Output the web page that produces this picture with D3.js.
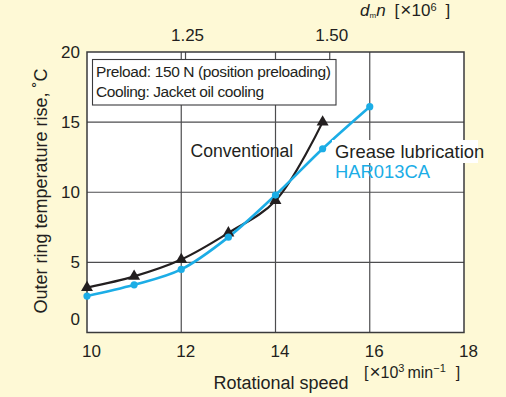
<!DOCTYPE html>
<html>
<head>
<meta charset="utf-8">
<script src="https://cdn.jsdelivr.net/npm/d3@7"></script>
<style>
  body { margin: 0; background: #fef9d6; }
  text { font-family: "Liberation Sans", Arial, sans-serif; fill: #231f20; }
</style>
</head>
<body>
<svg id="chart" width="506" height="397"></svg>
<script>
// axis ticks
const speedTicks = [ 10, 12, 14, 16, 18 ];
const tempTicks = [ 0, 5, 10, 15, 20 ];
const dmnTicks = [ 12.08, 15.14 ];   // speed where dmn = 1.25 / 1.50
const dmnLabels = [ "1.25", "1.50" ];

// series
const convSpeed = [ 10, 11, 12, 13, 14, 15 ];
const convTemp = [ 3.2, 4.0, 5.2, 7.1, 9.4, 15.0 ];
const greaseSpeed = [ 10, 11, 12, 13, 14, 15, 16 ];
const greaseTemp = [ 2.6, 3.4, 4.5, 6.8, 9.8, 13.1, 16.1 ];

const BLACK = "#231f20";
const BLUE = "#1cade6";
const GRID = "#4d4d4f";

const svg = d3.select( "#chart" );
const MARGINS = {
  top   : 52,
  right : 42,
  bottom: 64.5,
  left  : 87,
};
const WIDTH = 506;
const HEIGHT = 397;

const x = d3.scaleLinear()
  .domain( [ 10, 18 ] )
  .range( [ MARGINS.left, WIDTH - MARGINS.right ] );
const y = d3.scaleLinear()
  .domain( [ 0, 20 ] )
  .range( [ HEIGHT - MARGINS.bottom, MARGINS.top ] );

// plot background
svg.append( "rect" )
  .attr( "x", x( 10 ) )
  .attr( "y", y( 20 ) )
  .attr( "width", x( 18 ) - x( 10 ) )
  .attr( "height", y( 0 ) - y( 20 ) )
  .attr( "fill", "#fff" );

// grid
svg.append( "g" )
  .selectAll( "line" )
  .data( speedTicks.slice( 1, -1 ) )
  .enter()
  .append( "line" )
  .attr( "x1", d => x( d ) )
  .attr( "x2", d => x( d ) )
  .attr( "y1", y( 0 ) )
  .attr( "y2", y( 20 ) )
  .attr( "stroke", GRID )
  .attr( "stroke-width", 1.2 );

svg.append( "g" )
  .selectAll( "line" )
  .data( tempTicks.slice( 1, -1 ) )
  .enter()
  .append( "line" )
  .attr( "x1", x( 10 ) )
  .attr( "x2", x( 18 ) )
  .attr( "y1", d => y( d ) )
  .attr( "y2", d => y( d ) )
  .attr( "stroke", GRID )
  .attr( "stroke-width", 1.2 );

// axes
const xAxis = svg.append( "g" )
  .attr( "transform", `translate(0,${y( 0 )})` )
  .call( d3.axisBottom( x ).tickValues( speedTicks ).tickSize( 0 ).tickPadding( 12.5 ) );
xAxis.select( ".domain" ).remove();
xAxis.selectAll( "text" )
  .attr( "x", 4 )
  .style( "font-size", "17px" )
  .style( "font-family", null );

const yAxis = svg.append( "g" )
  .attr( "transform", `translate(${x( 10 )},0)` )
  .call( d3.axisLeft( y ).tickValues( tempTicks ).tickSize( 0 ).tickPadding( 7 ) );
yAxis.select( ".domain" ).remove();
yAxis.selectAll( "text" )
  .attr( "dy", d => d === 0 ? "-0.45em" : "0.32em" )
  .style( "font-size", "17px" )
  .style( "font-family", null );

const topAxis = svg.append( "g" )
  .attr( "transform", `translate(0,${y( 20 )})` )
  .call( d3.axisTop( x ).tickValues( dmnTicks ).tickSizeInner( -7 ).tickSizeOuter( 0 ).tickPadding( 11.3 )
    .tickFormat( ( d, i ) => dmnLabels[i] ) );
topAxis.select( ".domain" ).remove();
topAxis.selectAll( "line" ).attr( "stroke", GRID ).attr( "stroke-width", 1.2 );
topAxis.selectAll( "text" )
  .attr( "x", 2 )
  .style( "font-size", "17px" )
  .style( "font-family", null );

// frame
svg.append( "rect" )
  .attr( "x", x( 10 ) )
  .attr( "y", y( 20 ) )
  .attr( "width", x( 18 ) - x( 10 ) )
  .attr( "height", y( 0 ) - y( 20 ) )
  .attr( "fill", "none" )
  .attr( "stroke", "#3a3a3c" )
  .attr( "stroke-width", 1.5 );

// condition box
svg.append( "rect" )
  .attr( "x", 92.5 )
  .attr( "y", 59.5 )
  .attr( "width", 243.5 )
  .attr( "height", 45.5 )
  .attr( "fill", "#fff" )
  .attr( "stroke", "#3a3a3c" )
  .attr( "stroke-width", 1.1 );

svg.append( "text" )
  .attr( "x", 96 )
  .attr( "y", 76.7 )
  .attr( "textLength", 235 )
  .style( "font-size", "15.5px" )
  .text( "Preload: 150 N (position preloading)" );
svg.append( "text" )
  .attr( "x", 96 )
  .attr( "y", 96.7 )
  .attr( "textLength", 168 )
  .style( "font-size", "15.5px" )
  .text( "Cooling: Jacket oil cooling" );

// curves
const line = d3.line()
  .x( d => x( d[0] ) )
  .y( d => y( d[1] ) )
  .curve( d3.curveCatmullRom.alpha( 0.5 ) );

const conv = convSpeed.map( ( s, i ) => [ s, convTemp[i] ] );
const grease = greaseSpeed.map( ( s, i ) => [ s, greaseTemp[i] ] );

svg.append( "path" )
  .datum( conv )
  .attr( "d", line )
  .attr( "fill", "none" )
  .attr( "stroke", BLACK )
  .attr( "stroke-width", 2.2 );

svg.append( "path" )
  .datum( grease )
  .attr( "d", line )
  .attr( "fill", "none" )
  .attr( "stroke", BLUE )
  .attr( "stroke-width", 2.6 );

svg.append( "g" )
  .selectAll( "path" )
  .data( conv )
  .enter()
  .append( "path" )
  .attr( "transform", d => `translate(${x( d[0] )},${y( d[1] )})` )
  .attr( "d", d3.symbol( d3.symbolTriangle ).size( 62 ) )
  .attr( "fill", BLACK );

svg.append( "g" )
  .selectAll( "circle" )
  .data( grease )
  .enter()
  .append( "circle" )
  .attr( "cx", d => x( d[0] ) )
  .attr( "cy", d => y( d[1] ) )
  .attr( "r", 3.6 )
  .attr( "fill", BLUE );

// series labels
svg.append( "text" )
  .attr( "x", 190.5 )
  .attr( "y", 157 )
  .style( "font-size", "17.6px" )
  .text( "Conventional" );

svg.append( "rect" )
  .attr( "x", 332 )
  .attr( "y", 140 )
  .attr( "width", 146 )
  .attr( "height", 23 )
  .attr( "fill", "#fff" );
svg.append( "text" )
  .attr( "x", 335 )
  .attr( "y", 158 )
  .style( "font-size", "18.4px" )
  .text( "Grease lubrication" );
svg.append( "text" )
  .attr( "x", 335 )
  .attr( "y", 178 )
  .style( "font-size", "18.4px" )
  .style( "fill", BLUE )
  .text( "HAR013CA" );

// axis titles
svg.append( "text" )
  .attr( "transform", "translate(46.5,191) rotate(-90)" )
  .attr( "text-anchor", "middle" )
  .style( "font-size", "18px" )
  .text( "Outer ring temperature rise, ˚C" );

svg.append( "text" )
  .attr( "x", 281 )
  .attr( "y", 389 )
  .attr( "text-anchor", "middle" )
  .style( "font-size", "18px" )
  .text( "Rotational speed" );

const unitX = svg.append( "text" )
  .attr( "x", 364 )
  .attr( "y", 378 )
  .style( "font-size", "16px" );
unitX.append( "tspan" ).text( "[" );
unitX.append( "tspan" ).attr( "dx", 1 ).style( "font-size", "19px" ).text( "×" );
unitX.append( "tspan" ).text( "10" );
unitX.append( "tspan" ).attr( "dy", -6 ).style( "font-size", "11px" ).text( "3" );
unitX.append( "tspan" ).attr( "dy", 6 ).attr( "dx", 3 ).text( "min" );
unitX.append( "tspan" ).attr( "dy", -6 ).style( "font-size", "11px" ).text( "−1" );
unitX.append( "tspan" ).attr( "dy", 6 ).attr( "dx", 10 ).text( "]" );

const unitTop = svg.append( "text" )
  .attr( "x", 360 )
  .attr( "y", 16 )
  .style( "font-size", "17px" );
unitTop.append( "tspan" ).style( "font-style", "italic" ).text( "d" );
unitTop.append( "tspan" ).attr( "dy", 2 ).style( "font-size", "8px" ).text( "m" );
unitTop.append( "tspan" ).attr( "dy", -2 ).style( "font-style", "italic" ).text( "n" );
unitTop.append( "tspan" ).attr( "dx", 9 ).text( "[" );
unitTop.append( "tspan" ).attr( "dx", 1 ).style( "font-size", "19px" ).text( "×" );
unitTop.append( "tspan" ).text( "10" );
unitTop.append( "tspan" ).attr( "dy", -5.5 ).style( "font-size", "11px" ).text( "6" );
unitTop.append( "tspan" ).attr( "dy", 5.5 ).attr( "dx", 9 ).text( "]" );
</script>
</body>
</html>
